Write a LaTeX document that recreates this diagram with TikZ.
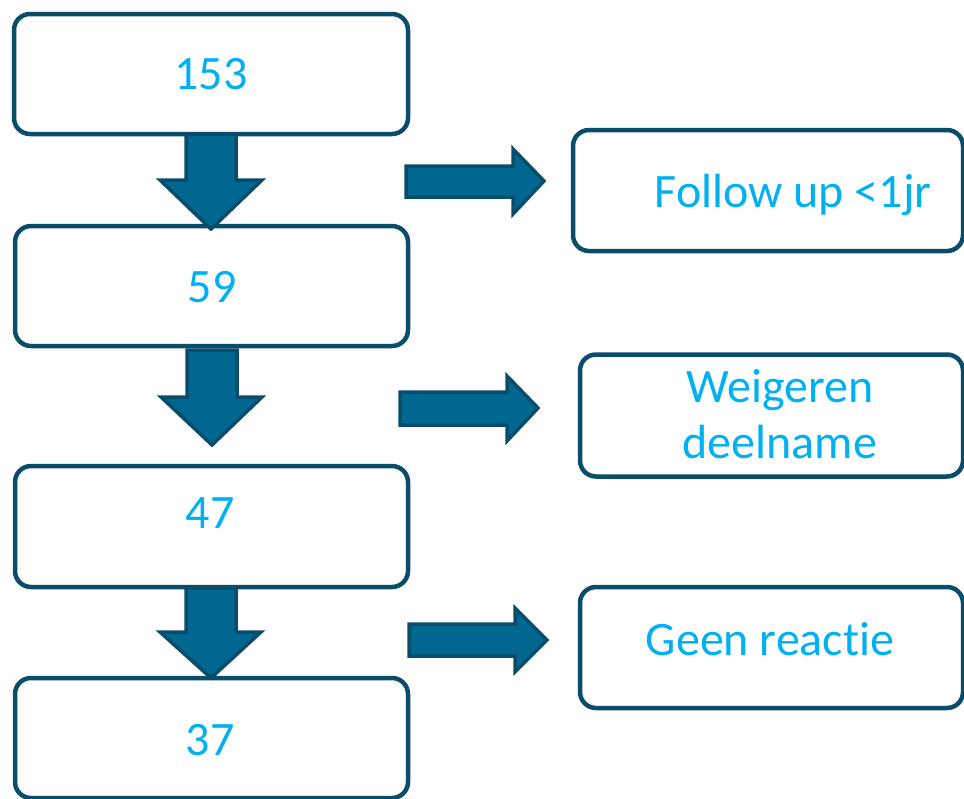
\documentclass[tikz,border=0pt]{standalone}
\usepackage{fontspec}
\setmainfont[Ligatures={NoCommon}]{Carlito}
\definecolor{edge}{HTML}{0A4D6B}
\definecolor{afill}{HTML}{006791}
\definecolor{txt}{HTML}{00B0F0}
\begin{document}
\begin{tikzpicture}[x=1pt,y=-1pt,
  box/.style={draw=edge, line width=4.5pt, rounded corners=16pt, fill=white, inner sep=0pt, outer sep=0pt},
  lbl/.style={text=txt, font=\fontsize{48}{56}\selectfont, inner sep=0pt, anchor=base},
  arr/.style={draw=edge, fill=afill, line width=3.5pt, line join=miter}]
\useasboundingbox (0,0) rectangle (964,798);
% left boxes
\node[box, minimum width=394pt, minimum height=120pt] (b1) at (211,74) {};
\node[box, minimum width=393pt, minimum height=120pt] (b2) at (211.5,286) {};
\node[box, minimum width=393pt, minimum height=121pt] (b3) at (211.5,526.5) {};
\node[box, minimum width=393pt, minimum height=120pt] (b4) at (211.5,738) {};
% right boxes
\node[box, minimum width=390pt, minimum height=121pt] (r1) at (768,190.5) {};
\node[box, minimum width=383pt, minimum height=122pt] (r2) at (771.5,415.5) {};
\node[box, minimum width=383pt, minimum height=121pt] (r3) at (771.5,647.5) {};
% texts
\node[lbl] (t1) at (211,89) {153};
\node[lbl] (t2) at (212,302) {59};
\node[lbl] (t3) at (210,528) {47};
\node[lbl] (t4) at (210,755) {37};
\node[lbl] (u1) at (793,207) {Follow up <1jr};
\node[lbl] (u2a) at (780,402) {Weigeren};
\node[lbl] (u2b) at (780,458) {deelname};
\node[lbl] (u3) at (770,655) {Geen reactie};
% down arrows
\draw[arr] (186,134) -- (236,134) -- (236,180) -- (262,180) -- (211,229)
  -- (160,180) -- (186,180) -- cycle;
\draw[arr] (187,350) -- (237,350) -- (237,397) -- (262,397) -- (212,445)
  -- (161,397) -- (187,397) -- cycle;
\draw[arr] (186,588) -- (236,588) -- (236,632) -- (261,632) -- (211,678)
  -- (160,632) -- (186,632) -- cycle;
% right arrows
\draw[arr] (406,166) -- (513,166) -- (513,149) -- (544,181) -- (513,214)
  -- (513,197) -- (406,197) -- cycle;
\draw[arr] (400,392) -- (507,392) -- (507,376) -- (538,408) -- (507,441)
  -- (507,425) -- (400,425) -- cycle;
\draw[arr] (409,624) -- (515,624) -- (515,608) -- (547,640) -- (515,672)
  -- (515,656) -- (409,656) -- cycle;
\end{tikzpicture}
\end{document}
